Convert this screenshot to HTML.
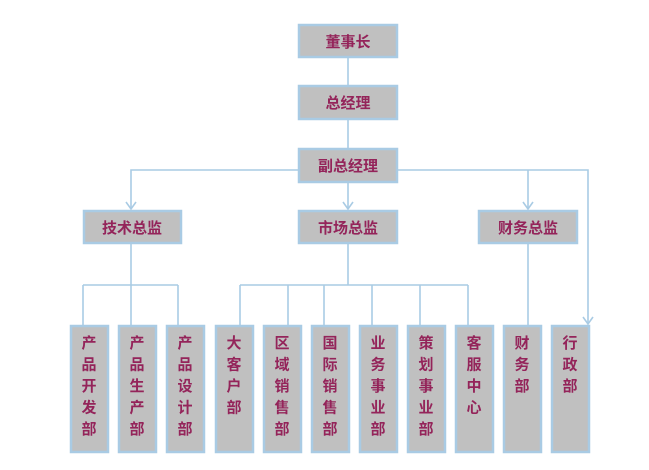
<!DOCTYPE html>
<html><head><meta charset="utf-8"><style>
html,body{margin:0;padding:0;background:#fff;width:649px;height:470px;overflow:hidden}
svg text{font-family:"Liberation Sans","Noto Sans CJK SC","WenQuanYi Zen Hei",sans-serif;font-weight:bold;fill:#94245a;font-size:15px;text-anchor:middle}
</style></head><body>
<svg width="649" height="470" xmlns="http://www.w3.org/2000/svg">
<g stroke="#a9cbe4" stroke-width="1.6" fill="none">
<line x1="348" y1="57" x2="348" y2="85"/>
<line x1="348" y1="120" x2="348" y2="148"/>
<polyline points="298,170 131,170 131,209"/>
<line x1="348" y1="182" x2="348" y2="209"/>
<polyline points="397,170 588,170 588,324"/>
<line x1="528" y1="170" x2="528" y2="209"/>
<path d="M126,202 L131,209 L136,202"/>
<path d="M343,202 L348,209 L353,202"/>
<path d="M523,202 L528,209 L533,202"/>
<path d="M583,317 L588,324 L593,317"/>
<line x1="131" y1="244" x2="131" y2="285"/>
<line x1="83" y1="285" x2="178" y2="285"/>
<line x1="83" y1="285" x2="83" y2="325"/>
<line x1="131" y1="285" x2="131" y2="325"/>
<line x1="178" y1="285" x2="178" y2="325"/>
<line x1="348" y1="244" x2="348" y2="285"/>
<line x1="240" y1="285" x2="468" y2="285"/>
<line x1="240" y1="285" x2="240" y2="325"/>
<line x1="288" y1="285" x2="288" y2="325"/>
<line x1="324" y1="285" x2="324" y2="325"/>
<line x1="372" y1="285" x2="372" y2="325"/>
<line x1="420" y1="285" x2="420" y2="325"/>
<line x1="468" y1="285" x2="468" y2="325"/>
<line x1="528" y1="244" x2="528" y2="325"/>
</g>
<g fill="#c0c0c0" stroke="#a9cbe4" stroke-width="2.5">
<rect x="299" y="25" width="98" height="32"/>
<rect x="299" y="86" width="98" height="33"/>
<rect x="299" y="149" width="98" height="33"/>
<rect x="84" y="211" width="97" height="32"/>
<rect x="299" y="211" width="98" height="32"/>
<rect x="479" y="211" width="98" height="32"/>
<rect x="71" y="326" width="37" height="126"/>
<rect x="119" y="326" width="37" height="126"/>
<rect x="167" y="326" width="37" height="126"/>
<rect x="216" y="326" width="37" height="126"/>
<rect x="264" y="326" width="37" height="126"/>
<rect x="312" y="326" width="37" height="126"/>
<rect x="360" y="326" width="37" height="126"/>
<rect x="408" y="326" width="37" height="126"/>
<rect x="456" y="326" width="37" height="126"/>
<rect x="504" y="326" width="37" height="126"/>
<rect x="552" y="326" width="37" height="126"/>
</g>
<text x="348" y="47">董事长</text>
<text x="348" y="108">总经理</text>
<text x="348" y="171">副总经理</text>
<text x="132" y="233">技术总监</text>
<text x="348" y="233">市场总监</text>
<text x="528" y="233">财务总监</text>
<g>
<text x="89" y="348">产<tspan x="89" dy="21.5">品</tspan><tspan x="89" dy="21.5">开</tspan><tspan x="89" dy="21.5">发</tspan><tspan x="89" dy="21.5">部</tspan></text>
<text x="137" y="348">产<tspan x="137" dy="21.5">品</tspan><tspan x="137" dy="21.5">生</tspan><tspan x="137" dy="21.5">产</tspan><tspan x="137" dy="21.5">部</tspan></text>
<text x="185" y="348">产<tspan x="185" dy="21.5">品</tspan><tspan x="185" dy="21.5">设</tspan><tspan x="185" dy="21.5">计</tspan><tspan x="185" dy="21.5">部</tspan></text>
<text x="234" y="348">大<tspan x="234" dy="21.5">客</tspan><tspan x="234" dy="21.5">户</tspan><tspan x="234" dy="21.5">部</tspan></text>
<text x="282" y="348">区<tspan x="282" dy="21.5">域</tspan><tspan x="282" dy="21.5">销</tspan><tspan x="282" dy="21.5">售</tspan><tspan x="282" dy="21.5">部</tspan></text>
<text x="330" y="348">国<tspan x="330" dy="21.5">际</tspan><tspan x="330" dy="21.5">销</tspan><tspan x="330" dy="21.5">售</tspan><tspan x="330" dy="21.5">部</tspan></text>
<text x="378" y="348">业<tspan x="378" dy="21.5">务</tspan><tspan x="378" dy="21.5">事</tspan><tspan x="378" dy="21.5">业</tspan><tspan x="378" dy="21.5">部</tspan></text>
<text x="426" y="348">策<tspan x="426" dy="21.5">划</tspan><tspan x="426" dy="21.5">事</tspan><tspan x="426" dy="21.5">业</tspan><tspan x="426" dy="21.5">部</tspan></text>
<text x="474" y="348">客<tspan x="474" dy="21.5">服</tspan><tspan x="474" dy="21.5">中</tspan><tspan x="474" dy="21.5">心</tspan></text>
<text x="522" y="348">财<tspan x="522" dy="21.5">务</tspan><tspan x="522" dy="21.5">部</tspan></text>
<text x="570" y="348">行<tspan x="570" dy="21.5">政</tspan><tspan x="570" dy="21.5">部</tspan></text>
</g>
</svg>
</body></html>
